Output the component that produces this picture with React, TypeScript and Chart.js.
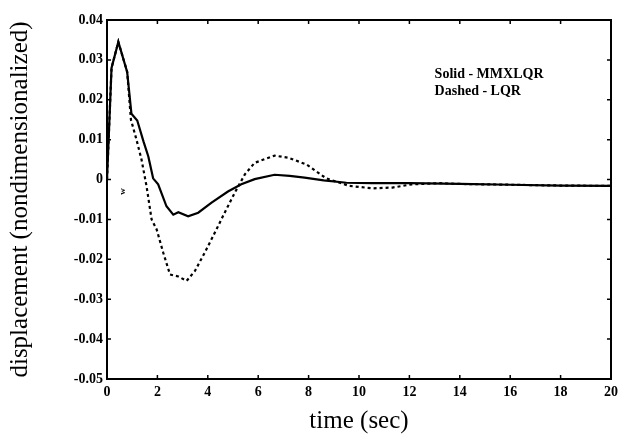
import React, { useEffect, useRef } from 'react';
import { Chart, registerables } from 'chart.js';

Chart.register(...registerables);

// time (sec) and displacement w for the solid curve (MMXLQR)
const solidTime = [0, 0.18, 0.45, 0.8, 0.97, 1.2, 1.45, 1.64, 1.83, 2.03, 2.36, 2.63, 2.83, 3.22, 3.62, 4.15, 4.8, 5.33, 5.86, 6.65, 7.25, 7.84, 8.6, 9.5, 10.5, 12, 14, 16, 18, 20];
const solidW = [0, 0.028, 0.0345, 0.027, 0.0165, 0.0148, 0.0095, 0.0058, 0.0003, -0.0012, -0.0067, -0.0088, -0.0082, -0.0092, -0.0083, -0.0058, -0.003, -0.0012, 0.0001, 0.0012, 0.0009, 0.0005, -0.0002, -0.0008, -0.0009, -0.0009, -0.0011, -0.0013, -0.0015, -0.0016];

// time (sec) and displacement w for the dashed curve (LQR)
const dashedTime = [0, 0.18, 0.45, 0.8, 0.95, 1.17, 1.37, 1.57, 1.77, 1.97, 2.23, 2.5, 2.83, 3.16, 3.49, 3.88, 4.28, 4.67, 5.07, 5.47, 5.86, 6.65, 7.18, 7.91, 8.7, 9.62, 10.55, 11.33, 12.1, 13.2, 14, 16, 18, 20];
const dashedW = [0, 0.028, 0.0345, 0.027, 0.015, 0.01, 0.005, -0.0017, -0.01, -0.0125, -0.0183, -0.0238, -0.0243, -0.0254, -0.0229, -0.0183, -0.0133, -0.0083, -0.0033, 0.0013, 0.0042, 0.006, 0.0055, 0.0038, 0.0003, -0.0016, -0.0022, -0.002, -0.0012, -0.0009, -0.0011, -0.0013, -0.0015, -0.0016];

const legendLines = ['Solid - MMXLQR', 'Dashed - LQR'];
const xTitle = 'time (sec)';
const yTitle = 'displacement (nondimensionalized)';
const strayLabel = 'w';

const SERIF = '"Liberation Serif", "Times New Roman", serif';

export default function App() {
  const ref = useRef<HTMLCanvasElement>(null);

  useEffect(() => {
    const canvas = ref.current;
    if (!canvas) return;

    const overlay = {
      id: 'overlay',
      afterDatasetsDraw(chart: any) {
        const { ctx, chartArea: a, scales } = chart;
        const xs = scales.x;
        const ys = scales.y;
        ctx.save();
        ctx.strokeStyle = '#000';
        ctx.lineWidth = 2;
        ctx.strokeRect(a.left, a.top, a.right - a.left, a.bottom - a.top);
        ctx.lineWidth = 1.5;
        ctx.beginPath();
        const tl = 4;
        xs.ticks.forEach((t: any) => {
          const px = xs.getPixelForValue(t.value);
          ctx.moveTo(px, a.bottom);
          ctx.lineTo(px, a.bottom - tl);
          ctx.moveTo(px, a.top);
          ctx.lineTo(px, a.top + tl);
        });
        ys.ticks.forEach((t: any) => {
          const py = ys.getPixelForValue(t.value);
          ctx.moveTo(a.left, py);
          ctx.lineTo(a.left + tl, py);
          ctx.moveTo(a.right, py);
          ctx.lineTo(a.right - tl, py);
        });
        ctx.stroke();

        ctx.fillStyle = '#000';
        ctx.font = 'bold 14px ' + SERIF;
        ctx.textAlign = 'left';
        ctx.textBaseline = 'middle';
        const lx = xs.getPixelForValue(13.0);
        const ly = ys.getPixelForValue(0.026);
        legendLines.forEach((txt, i) => ctx.fillText(txt, lx, ly - 1 + i * 17));

        ctx.save();
        ctx.translate(xs.getPixelForValue(0.63), ys.getPixelForValue(-0.003));
        ctx.rotate(-Math.PI / 2);
        ctx.font = 'bold 9px ' + SERIF;
        ctx.textAlign = 'center';
        ctx.fillText(strayLabel, 0, 0);
        ctx.restore();
        ctx.restore();
      },
    };

    const chart = new Chart(canvas, {
      type: 'line',
      data: {
        datasets: [
          {
            label: 'MMXLQR',
            data: solidTime.map((t, i) => ({ x: t, y: solidW[i] })),
            borderColor: '#000',
            borderWidth: 2.2,
            pointRadius: 0,
            tension: 0,
            fill: false,
          },
          {
            label: 'LQR',
            data: dashedTime.map((t, i) => ({ x: t, y: dashedW[i] })),
            borderColor: '#000',
            borderWidth: 2.2,
            borderDash: [3, 3],
            pointRadius: 0,
            tension: 0,
            fill: false,
          },
        ],
      },
      options: {
        animation: false,
        responsive: false,
        maintainAspectRatio: false,
        layout: { padding: { top: 20, right: 11, left: 0, bottom: 0 } },
        plugins: {
          legend: { display: false },
          tooltip: { enabled: false },
          title: { display: false },
        },
        scales: {
          x: {
            type: 'linear',
            min: 0,
            max: 20,
            grid: { display: false, drawTicks: false },
            border: { display: false },
            ticks: {
              stepSize: 2,
              color: '#000',
              padding: 5,
              font: { family: SERIF, size: 14, weight: 'bold' },
              maxRotation: 0,
            },
            title: {
              display: true,
              text: xTitle,
              color: '#000',
              font: { family: SERIF, size: 25, weight: 'normal' },
              padding: { top: 0, bottom: 7 },
            },
            afterFit: (s: any) => {
              s.height = 64;
            },
          },
          y: {
            type: 'linear',
            min: -0.05,
            max: 0.04,
            grid: { display: false, drawTicks: false },
            border: { display: false },
            ticks: {
              stepSize: 0.01,
              color: '#000',
              padding: 4,
              font: { family: SERIF, size: 14, weight: 'bold' },
              callback: (v: any) => {
                const n = Math.round(Number(v) * 100) / 100;
                return n === 0 ? '0' : n.toFixed(2);
              },
            },
            title: {
              display: true,
              text: yTitle,
              color: '#000',
              font: { family: SERIF, size: 25, weight: 'normal' },
              padding: { top: 5, bottom: 0 },
            },
            afterFit: (s: any) => {
              s.width = 107;
            },
          },
        },
      },
      plugins: [overlay],
    } as any);

    return () => chart.destroy();
  }, []);

  return (
    <div style={{ position: 'fixed', left: 0, top: 0, width: 623, height: 443, background: '#fff' }}>
      <canvas ref={ref} width={623} height={443} style={{ width: 623, height: 443, display: 'block' }} />
    </div>
  );
}
